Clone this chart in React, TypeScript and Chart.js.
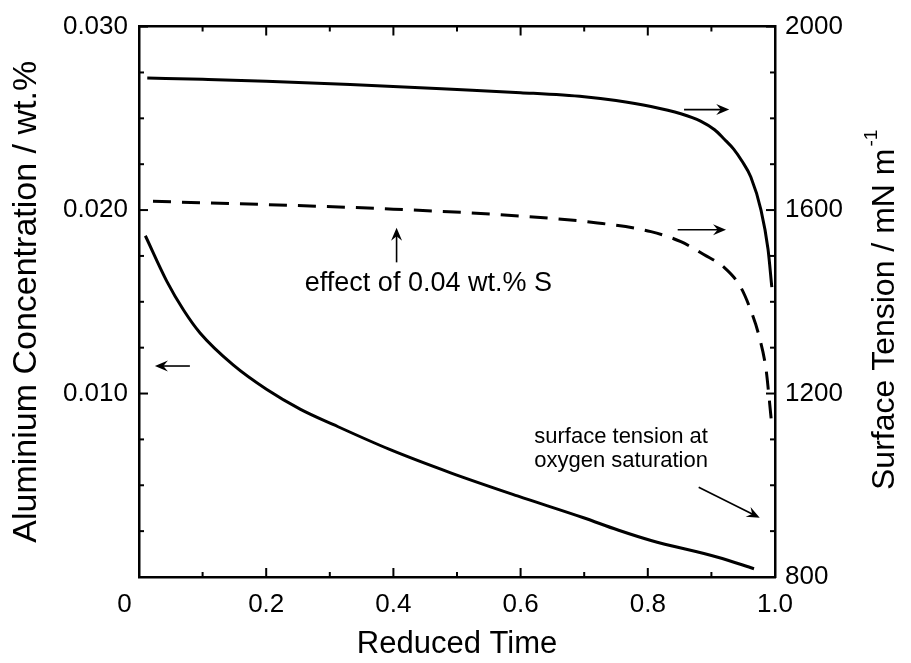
import { useEffect, useRef } from 'react';
import { Chart, registerables } from 'chart.js';

Chart.register(...registerables);

const FONT = '"Liberation Sans", Arial, Helvetica, sans-serif';

// Aluminium concentration (left axis)
const alTime = [0.01, 0.044, 0.07, 0.096, 0.148, 0.201, 0.254, 0.306, 0.395, 0.49, 0.595, 0.699, 0.753, 0.805, 0.91, 0.967];
const alConc = [0.0186, 0.0161, 0.01455, 0.0133, 0.01156, 0.01022, 0.00914, 0.0083, 0.00694, 0.00568, 0.00442, 0.00323, 0.00256, 0.00199, 0.00108, 0.00045];

// Surface tension (right axis, solid)
const stTime = [0.013, 0.1, 0.2, 0.332, 0.5, 0.6, 0.7, 0.75, 0.805, 0.852, 0.883, 0.905, 0.92, 0.935, 0.948, 0.962, 0.978, 0.989, 0.995];
const stValue = [1888, 1885, 1881, 1874, 1863, 1856, 1847, 1839, 1826, 1810, 1794, 1775, 1755, 1733, 1707, 1672, 1600, 1515, 1432];

// Surface tension with 0.04 wt.% S (right axis, dashed)
const stSTime = [0.022, 0.2, 0.4, 0.6, 0.721, 0.805, 0.852, 0.888, 0.92, 0.946, 0.962, 0.975, 0.986, 0.991, 0.995];
const stSValue = [1619, 1612, 1602, 1587, 1572, 1553, 1531, 1503, 1475, 1432, 1381, 1325, 1252, 1187, 1130];

// Ticks
const xMajorTicks = [0, 0.2, 0.4, 0.6, 0.8, 1.0];
const xTickLabels = ['0    ', '0.2', '0.4', '0.6', '0.8', '1.0'];
const xMinorPerMajor = 2;
const leftMajorTicks = [0, 0.01, 0.02, 0.03];
const leftTickLabels = ['', '0.010', '0.020', '0.030'];
const leftMinorPerMajor = 4;
const rightMajorTicks = [800, 1200, 1600, 2000];
const rightTickLabels = ['800', '1200', '1600', '2000'];
const rightMinorPerMajor = 4;

// Annotation arrows (data coordinates)
const arrowAxis = ['y', 'y1', 'y1', 'y', 'y'];
const arrowFromX = [0.08, 0.857, 0.847, 0.405, 0.88];
const arrowFromY = [0.0115, 1819, 1557, 0.01715, 0.00489];
const arrowToX = [0.025, 0.928, 0.923, 0.405, 0.976];
const arrowToY = [0.0115, 1819, 1557, 0.01903, 0.00323];

// Annotation texts (data coordinates, left axis)
const noteTexts = ['effect of 0.04 wt.% S', 'surface tension at', 'oxygen saturation'];
const noteX = [0.455, 0.758, 0.758];
const noteY = [0.01597, 0.00763, 0.00634];
const noteSize = [27, 22, 22];

const rightTitleMain = 'Surface Tension / mN m';
const rightTitleSup = '-1';

function drawArrow(ctx: CanvasRenderingContext2D, x1: number, y1: number, x2: number, y2: number) {
  const ang = Math.atan2(y2 - y1, x2 - x1);
  const L = 13;
  const W = 5.5;
  ctx.beginPath();
  ctx.moveTo(x1, y1);
  ctx.lineTo(x2 - Math.cos(ang) * L * 0.6, y2 - Math.sin(ang) * L * 0.6);
  ctx.stroke();
  ctx.save();
  ctx.translate(x2, y2);
  ctx.rotate(ang);
  ctx.beginPath();
  ctx.moveTo(0, 0);
  ctx.lineTo(-L, -W);
  ctx.lineTo(-L * 0.65, 0);
  ctx.lineTo(-L, W);
  ctx.closePath();
  ctx.fill();
  ctx.restore();
}

function eachTick(majors: number[], perMajor: number, fn: (v: number, major: boolean) => void) {
  for (let i = 0; i < majors.length; i++) {
    fn(majors[i], true);
    if (i < majors.length - 1) {
      const step = (majors[i + 1] - majors[i]) / perMajor;
      for (let k = 1; k < perMajor; k++) fn(majors[i] + k * step, false);
    }
  }
}

const decorations = {
  id: 'decorations',
  afterDraw(chart: any) {
    const ctx: CanvasRenderingContext2D = chart.ctx;
    const { x, y, y1 } = chart.scales;
    const area = chart.chartArea;
    ctx.save();
    ctx.strokeStyle = '#000';
    ctx.fillStyle = '#000';
    ctx.lineWidth = 2;
    ctx.lineCap = 'butt';

    eachTick(xMajorTicks, xMinorPerMajor, (v, major) => {
      const px = x.getPixelForValue(v);
      const len = major ? 9 : 5;
      ctx.beginPath();
      ctx.moveTo(px, area.bottom);
      ctx.lineTo(px, area.bottom - len);
      ctx.moveTo(px, area.top);
      ctx.lineTo(px, area.top + len);
      ctx.stroke();
    });
    eachTick(leftMajorTicks, leftMinorPerMajor, (v, major) => {
      const py = y.getPixelForValue(v);
      const len = major ? 9 : 5;
      ctx.beginPath();
      ctx.moveTo(area.left, py);
      ctx.lineTo(area.left + len, py);
      ctx.stroke();
    });
    eachTick(rightMajorTicks, rightMinorPerMajor, (v, major) => {
      const py = y1.getPixelForValue(v);
      const len = major ? 9 : 5;
      ctx.beginPath();
      ctx.moveTo(area.right, py);
      ctx.lineTo(area.right - len, py);
      ctx.stroke();
    });

    ctx.lineWidth = 1.6;
    for (let i = 0; i < arrowAxis.length; i++) {
      const ys = chart.scales[arrowAxis[i]];
      drawArrow(
        ctx,
        x.getPixelForValue(arrowFromX[i]),
        ys.getPixelForValue(arrowFromY[i]),
        x.getPixelForValue(arrowToX[i]),
        ys.getPixelForValue(arrowToY[i])
      );
    }

    ctx.textAlign = 'center';
    ctx.textBaseline = 'middle';
    for (let i = 0; i < noteTexts.length; i++) {
      ctx.font = `${noteSize[i]}px ${FONT}`;
      ctx.fillText(noteTexts[i], x.getPixelForValue(noteX[i]), y.getPixelForValue(noteY[i]));
    }

    // right axis title, reading bottom-to-top with superscript
    ctx.save();
    ctx.translate(area.right + 110, area.bottom - 87);
    ctx.rotate(-Math.PI / 2);
    ctx.textAlign = 'left';
    ctx.font = `32px ${FONT}`;
    ctx.fillText(rightTitleMain, 0, 0);
    const w = ctx.measureText(rightTitleMain).width;
    ctx.font = `19px ${FONT}`;
    ctx.fillText(rightTitleSup, w + 2, -13);
    ctx.restore();

    ctx.restore();
  },
};

export default function App() {
  const ref = useRef<HTMLCanvasElement>(null);

  useEffect(() => {
    if (!ref.current) return;
    const chart = new Chart(ref.current, {
      type: 'line',
      data: {
        datasets: [
          {
            label: 'Aluminium',
            data: alTime.map((t, i) => ({ x: t, y: alConc[i] })),
            yAxisID: 'y',
            borderColor: '#000',
            borderWidth: 3,
            pointRadius: 0,
            cubicInterpolationMode: 'monotone',
          },
          {
            label: 'Surface tension',
            data: stTime.map((t, i) => ({ x: t, y: stValue[i] })),
            yAxisID: 'y1',
            borderColor: '#000',
            borderWidth: 3,
            pointRadius: 0,
            cubicInterpolationMode: 'monotone',
          },
          {
            label: 'Surface tension, 0.04 wt.% S',
            data: stSTime.map((t, i) => ({ x: t, y: stSValue[i] })),
            yAxisID: 'y1',
            borderColor: '#000',
            borderWidth: 3,
            borderDash: [18, 11],
            pointRadius: 0,
            cubicInterpolationMode: 'monotone',
          },
        ],
      },
      options: {
        animation: false,
        responsive: false,
        devicePixelRatio: 1,
        layout: { padding: 0 },
        plugins: { legend: { display: false }, tooltip: { enabled: false } },
        scales: {
          x: {
            type: 'linear',
            position: 'bottom',
            min: 0,
            max: 1,
            afterBuildTicks: (s: any) => {
              s.ticks = xMajorTicks.map((v) => ({ value: v }));
            },
            afterFit: (s: any) => {
              s.height = 86;
            },
            ticks: {
              autoSkip: false,
              maxRotation: 0,
              padding: 12,
              color: '#000',
              font: { family: FONT, size: 26 },
              callback: (_v: any, i: number) => xTickLabels[i],
            },
            grid: { display: false, drawTicks: false },
            border: { display: true, color: '#000', width: 2.5 },
            title: {
              display: true,
              text: 'Reduced Time',
              color: '#000',
              font: { family: FONT, size: 31 },
              padding: { top: 0, bottom: 0 },
            },
          },
          x2: {
            type: 'linear',
            position: 'top',
            min: 0,
            max: 1,
            display: true,
            afterFit: (s: any) => {
              s.height = 19;
            },
            ticks: { display: false },
            grid: { display: false, drawTicks: false },
            border: { display: true, color: '#000', width: 2.5 },
          },
          y: {
            type: 'linear',
            position: 'left',
            min: 0,
            max: 0.03,
            afterBuildTicks: (s: any) => {
              s.ticks = leftMajorTicks.map((v) => ({ value: v }));
            },
            afterFit: (s: any) => {
              s.width = 139;
            },
            ticks: {
              autoSkip: false,
              padding: 11,
              color: '#000',
              font: { family: FONT, size: 26 },
              callback: (_v: any, i: number) => leftTickLabels[i],
            },
            grid: { display: false, drawTicks: false },
            border: { display: true, color: '#000', width: 2.5 },
            title: {
              display: true,
              text: 'Aluminium Concentration / wt.%',
              color: '#000',
              font: { family: FONT, size: 34 },
              padding: { top: 6.6, bottom: 0 },
            },
          },
          y1: {
            type: 'linear',
            position: 'right',
            min: 800,
            max: 2000,
            afterBuildTicks: (s: any) => {
              s.ticks = rightMajorTicks.map((v) => ({ value: v }));
            },
            afterFit: (s: any) => {
              s.width = 136;
            },
            ticks: {
              autoSkip: false,
              padding: 10,
              color: '#000',
              font: { family: FONT, size: 26 },
              callback: (_v: any, i: number) => rightTickLabels[i],
            },
            grid: { display: false, drawTicks: false },
            border: { display: true, color: '#000', width: 2.5 },
          },
        },
      },
      plugins: [decorations],
    } as any);
    return () => chart.destroy();
  }, []);

  return (
    <div style={{ position: 'fixed', left: 0, top: 0, width: 911, height: 663, background: '#fff' }}>
      <canvas ref={ref} width={911} height={663} style={{ display: 'block' }} />
    </div>
  );
}
